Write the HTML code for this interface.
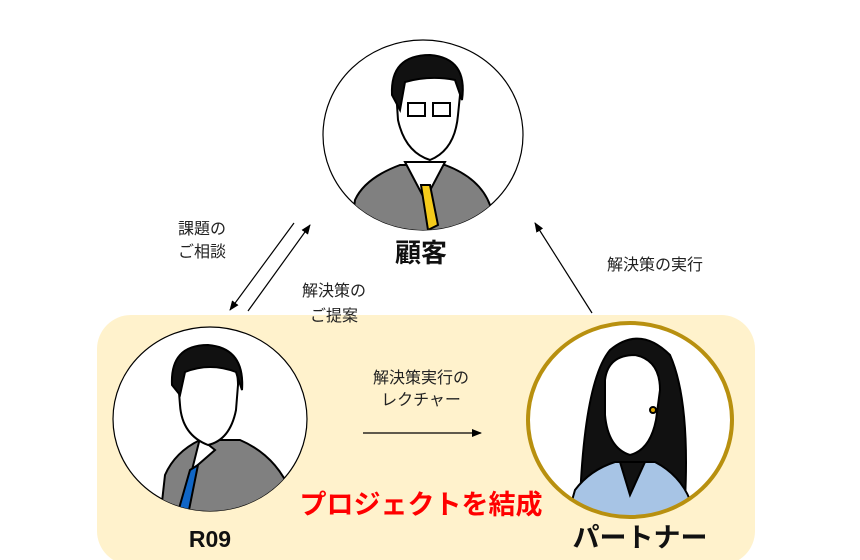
<!DOCTYPE html>
<html><head><meta charset="utf-8"><style>
html,body{margin:0;padding:0;background:#fff;}
body{width:860px;height:560px;overflow:hidden;position:relative;font-family:"Liberation Sans","Noto Sans CJK JP",sans-serif;}
</style></head><body>
<svg width="860" height="560" viewBox="0 0 860 560" xmlns="http://www.w3.org/2000/svg" style="position:absolute;left:0;top:0">
<defs>
<marker id="ah" markerWidth="10" markerHeight="8" refX="9" refY="4" orient="auto" markerUnits="userSpaceOnUse"><path d="M0,0 L10,4 L0,8 z" fill="#000"/></marker>
<clipPath id="c1"><ellipse cx="423" cy="135" rx="100" ry="95"/></clipPath>
<clipPath id="c2"><ellipse cx="210" cy="419" rx="97" ry="92"/></clipPath>
<clipPath id="c3"><ellipse cx="630" cy="420" rx="102" ry="97"/></clipPath>
</defs>
<rect x="97" y="315" width="658" height="250" rx="34" fill="#FFF2CC"/>
<!-- top customer -->
<ellipse cx="423" cy="135" rx="100" ry="95" fill="#fff" stroke="#000" stroke-width="1.2"/>
<g clip-path="url(#c1)" stroke="#000" stroke-width="2">
<path d="M350,240 L355,200 Q365,178 400,165 L445,165 Q480,178 490,205 L495,240 z" fill="#808080"/>
<path d="M405,162 L425,200 L445,162 z" fill="#fff"/>
<path d="M421,185 L430,185 L438,225 L428,230 z" fill="#F5CB1B"/>
<path d="M396,90 Q395,60 430,58 Q462,62 460,95 L458,115 Q455,150 430,160 Q405,152 398,120 z" fill="#fff"/>
<path d="M392,95 Q390,55 430,55 Q468,58 462,100 L455,80 Q430,75 405,82 L400,110 z" fill="#111"/>
<rect x="408" y="103" width="17" height="13" fill="none"/><rect x="433" y="103" width="17" height="13" fill="none"/>
</g>
<!-- left R09 -->
<ellipse cx="210" cy="419" rx="97" ry="92" fill="#fff" stroke="#000" stroke-width="1.2"/>
<g clip-path="url(#c2)" stroke="#000" stroke-width="2">
<path d="M160,520 L165,475 Q175,452 200,440 L240,440 Q275,455 290,490 L300,520 z" fill="#808080"/>
<path d="M200,438 L192,470 L215,450 z" fill="#fff"/>
<path d="M190,470 L198,465 L188,515 L178,512 z" fill="#1066C6"/>
<path d="M178,380 Q178,350 208,350 Q238,352 238,385 L236,410 Q230,440 208,445 Q182,435 180,405 z" fill="#fff"/>
<path d="M172,385 Q170,345 208,345 Q245,348 242,390 L236,372 Q210,362 185,372 L180,395 z" fill="#111"/>
</g>
<!-- right partner -->
<ellipse cx="630" cy="420" rx="102" ry="97" fill="#fff"/>
<g clip-path="url(#c3)" stroke="#000" stroke-width="2">
<path d="M580,500 Q585,380 610,350 Q640,325 670,355 Q690,400 685,500 z" fill="#111"/>
<path d="M565,525 L575,490 Q590,470 615,462 L655,462 Q680,475 690,500 L700,525 z" fill="#A7C4E5"/>
<path d="M620,462 L630,495 L645,462 z" fill="#111"/>
<path d="M605,380 Q608,355 635,355 Q660,360 660,390 L656,420 Q650,450 630,455 Q608,448 605,415 z" fill="#fff"/>
<circle cx="653" cy="410" r="3" fill="#E0A800"/>
</g>
<ellipse cx="630" cy="420" rx="102" ry="97" fill="none" stroke="#B8900F" stroke-width="4"/>
<!-- arrows -->
<line x1="294" y1="223" x2="230" y2="310" stroke="#000" stroke-width="1.2" marker-end="url(#ah)"/>
<line x1="248" y1="311" x2="310" y2="225" stroke="#000" stroke-width="1.2" marker-end="url(#ah)"/>
<line x1="592" y1="313" x2="535" y2="223" stroke="#000" stroke-width="1.2" marker-end="url(#ah)"/>
<line x1="363" y1="433" x2="481" y2="433" stroke="#000" stroke-width="1.2" marker-end="url(#ah)"/>
<!-- text -->
<g font-family="Liberation Sans, Noto Sans CJK JP, sans-serif" fill="#222" font-size="16">
<text x="202" y="234" text-anchor="middle">課題の</text>
<text x="202" y="257" text-anchor="middle">ご相談</text>
<text x="334" y="296" text-anchor="middle">解決策の</text>
<text x="334" y="321" text-anchor="middle">ご提案</text>
<text x="655" y="270" text-anchor="middle">解決策の実行</text>
<text x="421" y="383" text-anchor="middle">解決策実行の</text>
<text x="421" y="405" text-anchor="middle">レクチャー</text>
</g>
<g font-family="Liberation Sans, Noto Sans CJK JP, sans-serif" font-weight="bold" fill="#111">
<text x="421" y="262" text-anchor="middle" font-size="26">顧客</text>
<text x="210" y="547" text-anchor="middle" font-size="23">R09</text>
<text x="640" y="547" text-anchor="middle" font-size="27">パートナー</text>
<text x="421" y="514" text-anchor="middle" font-size="27" fill="#FF0000">プロジェクトを結成</text>
</g>
</svg>
</body></html>
